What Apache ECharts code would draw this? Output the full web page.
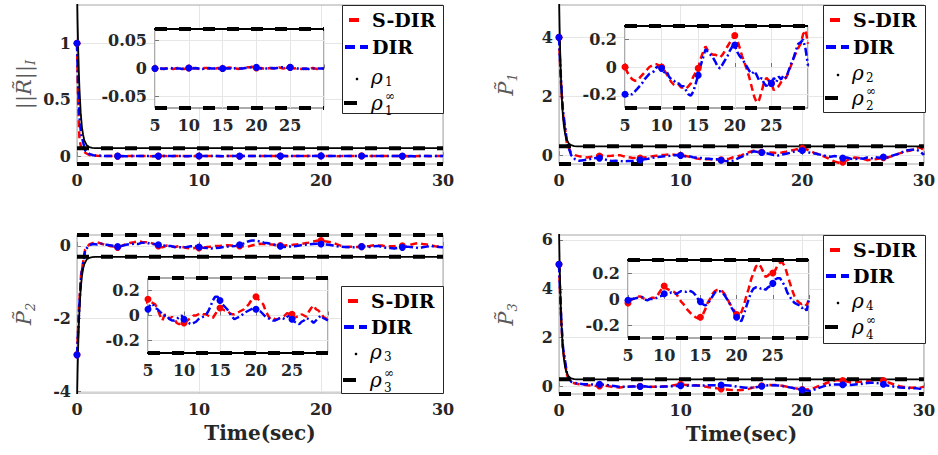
<!DOCTYPE html>
<html><head><meta charset="utf-8">
<script src="https://cdn.jsdelivr.net/npm/echarts@6/dist/echarts.min.js"></script>
<style>html,body{margin:0;padding:0;background:#fff}#c{width:938px;height:455px}</style>
</head><body><div id="c"></div>
<script>
// ---------- data ----------
const time = [0,0.1,0.2,
0.33,0.67,1, 1.33,1.67,2, 2.33,2.67,3, 3.33,3.67,4, 4.33,4.67,5,
5.33,5.67,6, 6.33,6.67,7, 7.33,7.67,8, 8.33,8.67,9, 9.33,9.67,10,
10.33,10.67,11, 11.33,11.67,12, 12.33,12.67,13, 13.33,13.67,14, 14.33,14.67,15,
15.33,15.67,16, 16.33,16.67,17, 17.33,17.67,18, 18.33,18.67,19, 19.33,19.67,20,
20.33,20.67,21, 21.33,21.67,22, 22.33,22.67,23, 23.33,23.67,24, 24.33,24.67,25,
25.33,25.67,26, 26.33,26.67,27, 27.33,27.67,28, 28.33,28.67,29, 29.33,29.67,30];

const sdirR = [1,0.45,0.15, 0.08,0.03,0.01, 0.005,0.003,0.002,
0.001,0,0.001, 0,-0.001,0, 0.001,0.001,0, 0.001,0,-0.001, 0,0,0.001, 0,-0.001,0,
0.001,0,0, -0.001,0,0.001, 0,0.001,0, 0,-0.001,0, 0.001,0.001,0, -0.001,0,0,
0.001,0,0, 0.001,0.001,0.002, 0.001,0,0, -0.001,0,0.001, 0.001,0.002,0.002, 0.003,0.002,0.001,
0,0.001,0, -0.001,0,0.001, 0,0.001,0.001, 0.002,0.001,0, 0.001,0.002,0.002, 0.001,0,0.001,
0,-0.001,0, -0.001,-0.001,0, 0.001,0,-0.001, 0,0,0];
const dirR = [1,0.6,0.35, 0.2,0.05,0.02, 0.008,0.004,0.002,
0,0.001,0, 0,0,-0.001, 0,0,0, 0.001,0,0, -0.001,0,0, 0.001,0,0,
0,0,-0.001, 0,0.001,0.001, 0,0,0.001, 0,0,-0.001, 0,0,0.001, 0,0,0,
0,0,0, 0.001,0,0, 0,0,0.001, 0,0,0, 0.001,0.001,0.002, 0.002,0.001,0.002,
0.001,0,0, 0,0,0.001, 0.001,0,0.001, 0.001,0.002,0.002, 0.002,0.001,0.002, 0.001,0.001,0,
0,0,-0.001, 0,-0.001,0, 0,0,0, 0,0,0];

const sdirP1 = [4,3.0,2.2,
1.4,0.35,0.08, 0.0,-0.04,-0.06, -0.08,-0.05,-0.01, -0.03,0.0,-0.03, -0.02,0.0,0.0,
-0.04,-0.07,-0.09, -0.1,-0.1,-0.08, -0.06,-0.04,-0.02, 0.0,0.01,0.02, 0.02,0.01,0.0,
-0.02,-0.05,-0.08, -0.11,-0.13,-0.14, -0.13,-0.15,-0.15, -0.16,-0.14,-0.12, -0.07,-0.04,-0.01,
0.06,0.11,0.15, 0.12,0.1,0.09, 0.09,0.08,0.07, 0.09,0.12,0.15, 0.18,0.21,0.23,
0.2,0.14,0.08, 0.03,-0.02,-0.08, -0.15,-0.22,-0.26, -0.24,-0.18,-0.11, -0.08,-0.1,-0.12,
-0.17,-0.15,-0.14, -0.11,-0.09,-0.08, -0.04,0.01,0.06, 0.1,0.14,0.17, 0.24,0.27,0.17];
const dirP1 = [4,3.1,2.3,
1.5,0.4,0.0, -0.14,-0.19,-0.17, -0.15,-0.12,-0.1, -0.1,-0.13,-0.17, -0.2,-0.19,-0.2,
-0.21,-0.2,-0.2, -0.18,-0.16,-0.14, -0.12,-0.09,-0.07, -0.05,-0.04,-0.03, 0.0,0.0,-0.01,
-0.04,-0.03,-0.07, -0.09,-0.1,-0.12, -0.12,-0.14,-0.14, -0.17,-0.2,-0.21, -0.18,-0.12,-0.06,
0.01,0.07,0.13, 0.11,0.09,0.07, 0.04,0.0,-0.01, 0.02,0.05,0.08, 0.12,0.15,0.16,
0.11,0.08,0.06, 0.03,0.0,-0.03, -0.05,-0.03,-0.06, -0.1,-0.08,-0.12, -0.14,-0.1,-0.12,
-0.08,-0.11,-0.07, -0.09,-0.06,-0.08, -0.03,0.02,0.06, 0.12,0.17,0.18, 0.2,0.13,0.01];

const sdirP2 = [-3,-2.2,-1.5,
-0.8,-0.1,0.04, 0.08,0.1,0.06, 0.03,0.0,-0.02, -0.04,0.0,0.05, 0.08,0.1,0.13,
0.11,0.1,0.09, 0.05,0.0,-0.04, 0.01,-0.01,-0.03, -0.01,-0.03,-0.06, -0.07,-0.06,-0.06,
-0.05,-0.03,-0.02, 0.0,0.0,0.01, 0.02,0.01,0.01, 0.0,-0.01,-0.02, 0.01,0.04,0.06,
0.05,0.04,0.04, 0.02,0.01,0.01, 0.02,0.03,0.04, 0.05,0.07,0.09, 0.12,0.14,0.15,
0.13,0.11,0.09, 0.04,0.0,-0.03, -0.02,-0.03,-0.03, -0.02,-0.01,0.0, 0.02,0.01,0.01,
-0.02,-0.01,-0.01, 0.01,0.0,-0.01, 0.03,0.06,0.08, 0.05,0.04,0.02, -0.01,-0.02,-0.04];
const dirP2 = [-3,-2.3,-1.6,
-0.85,-0.12,0.02, 0.05,0.04,0.06, 0.04,0.02,0.0, -0.02,0.0,0.03, 0.05,0.06,0.05,
0.09,0.09,0.06, 0.05,0.03,0.01, 0.0,0.0,-0.03, -0.04,-0.04,-0.03, -0.01,0.0,-0.03,
-0.05,-0.06,-0.07, -0.06,-0.05,-0.03, -0.02,-0.01,0.0, 0.03,0.07,0.12, 0.15,0.15,0.12,
0.09,0.07,0.05, 0.02,-0.01,-0.03, -0.02,-0.01,0.0, 0.02,0.03,0.04, 0.05,0.06,0.05,
0.04,0.03,0.01, -0.01,-0.02,-0.03, -0.04,-0.04,-0.03, -0.02,-0.02,-0.03, -0.01,0.0,-0.03,
-0.05,-0.06,-0.07, -0.05,-0.04,-0.02, -0.03,-0.04,-0.06, -0.04,-0.02,0.0, -0.02,-0.03,-0.04];

const sdirP3 = [5,3.7,2.5,
1.5,0.45,0.2, 0.13,0.1,0.08, 0.06,0.05,0.04, 0.03,0.04,0.03, 0.0,-0.02,-0.03,
-0.01,0.0,0.01, 0.02,0.02,0.01, 0.0,-0.005,0.0, 0.01,0.01,0.02, 0.05,0.08,0.1,
0.08,0.07,0.06, 0.055,0.04,0.01, -0.02,-0.04,-0.07, -0.09,-0.11,-0.13, -0.14,-0.15,-0.14,
-0.12,-0.08,-0.03, 0.0,0.04,0.06, 0.07,0.07,0.06, 0.04,0.01,-0.03, -0.06,-0.09,-0.12,
-0.12,-0.1,-0.05, 0.02,0.08,0.15, 0.2,0.25,0.27, 0.25,0.21,0.17, 0.18,0.2,0.2,
0.22,0.26,0.28, 0.28,0.25,0.19, 0.13,0.07,0.02, -0.01,-0.03,-0.04, -0.03,-0.05,0.0];
const dirP3 = [5,3.8,2.6,
1.6,0.5,0.2, 0.15,0.12,0.1, 0.1,0.09,0.08, 0.1,0.08,0.06, 0.04,0.02,-0.01,
0.0,0.0,0.005, 0.01,0.01,0.015, -0.005,-0.01,0.0, 0.0,0.005,0.01, 0.02,0.025,0.04,
0.035,0.045,0.05, 0.045,0.04,0.05, 0.06,0.055,0.055, 0.065,0.06,0.05, 0.03,0.0,-0.02,
-0.04,-0.05,-0.04, -0.01,0.02,0.05, 0.06,0.06,0.05, 0.03,0.0,-0.03, -0.07,-0.1,-0.14,
-0.16,-0.17,-0.12, -0.06,0.0,0.05, 0.08,0.09,0.09, 0.08,0.085,0.07, 0.09,0.1,0.12,
0.15,0.16,0.16, 0.13,0.1,0.05, 0.02,-0.01,-0.03, -0.04,-0.05,-0.07, -0.06,-0.09,0.0];

const rhoTime = [0,0.05,0.1,0.15,0.2,0.3,0.4,0.5,0.6,0.8,1,1.25,1.5,2,30];
const rho1 = [1.5,1.18,0.94,0.75,0.6,0.39,0.26,0.19,0.14,0.096,0.08,0.073,0.071,0.07,0.07];
const rho2 = [5.5,4.35,3.46,2.75,2.21,1.46,1.0,0.73,0.56,0.4,0.34,0.31,0.3,0.3,0.3];
const rho3 = [-4.3,-3.42,-2.73,-2.19,-1.77,-1.19,-0.84,-0.63,-0.5,-0.37,-0.33,-0.31,-0.3,-0.3,-0.3];
const rho4 = [6.5,5.13,4.06,3.23,2.58,1.68,1.14,0.81,0.61,0.41,0.34,0.31,0.3,0.3,0.3];
const rhoInf = [0.07, 0.3, 0.3, 0.3];
const mainInfTime = [0, 30];
const insetInfTime = [5, 30];

const mainMarkTimes = [0,3.33,6.67,10,13.33,16.67,20,23.33,26.67];
const insetMarkTimes = [5,10,15,20,25];

const mainXTicks = [0,10,20,30];
const insetXTicks = [5,10,15,20,25];
const mainYTicks = [[0,0.5,1],[0,2,4],[-4,-2,0],[0,2,4,6]];
const insetYTicks = [[-0.05,0,0.05],[-0.2,0,0.2],[-0.2,0,0.2],[-0.2,0,0.2]];

const seriesNames = ['S-DIR','DIR'];
const rhoSub = ['1','2','3','4'];
const yNames = ['{a|||R\u0303||}{b|I}','{a|P\u0303}{b|1}','{a|P\u0303}{b|2}','{a|P\u0303}{b|3}'];
const xName = 'Time(sec)';

// ---------- layout ----------
const sdir = [sdirR, sdirP1, sdirP2, sdirP3];
const dir = [dirR, dirP1, dirP2, dirP3];
const rho = [rho1, rho2, rho3, rho4];
const mainGrids = [[77,5,366,159],[559,5,366,159],[77,235,366,158],[559,235,366,159]];
const insetGrids = [[155,29,169,79],[625,26,183,82],[148,278,180,75],[628,260,181,78]];
const mainYRange = [[-0.07,1.34],[-0.3,5.1],[-4.05,0.3],[-0.3,6.2]];
const insetYRange = [[-0.07,0.07],[-0.3,0.3],[-0.3,0.3],[-0.3,0.3]];
const legendBoxes = [[342,5,101,108],[823,5,102,107],[341,286,102,107],[823,235,102,108]];
const legendRows = [[20,47,77,103],[20,47,73,98],[301,327,352,380],[250,276,301,327]];

const FONT = 'DejaVu Serif';
const TXT = '#262626';
const labelStyle = {fontFamily: FONT, fontWeight: 'bold', fontSize: 16, color: TXT};

const grids = [], xAxes = [], yAxes = [], series = [];
function pts(xs, ys) { return xs.map((x, i) => [x, ys[i]]); }

for (let p = 0; p < 4; p++) {
  const g = mainGrids[p];
  grids.push({left: g[0], top: g[1], width: g[2], height: g[3], show: true,
    borderColor: '#a6a6a6', borderWidth: 1, backgroundColor: 'transparent', z: 2});
}
for (let p = 0; p < 4; p++) {
  const g = insetGrids[p];
  grids.push({left: g[0], top: g[1], width: g[2], height: g[3], show: true,
    borderColor: '#595959', borderWidth: 1, backgroundColor: '#fff', z: 3});
}
for (let k = 0; k < 8; k++) {
  const p = k % 4, inset = k >= 4;
  const zAx = inset ? 4 : 0;
  xAxes.push({
    type: 'value', gridIndex: k, z: zAx,
    min: inset ? 5 : 0, max: 30, interval: inset ? 5 : 10,
    axisLine: {show: false},
    axisTick: {show: true, inside: true, length: 4, lineStyle: {color: '#777'}},
    axisLabel: Object.assign({margin: inset ? 9 : 8, customValues: inset ? insetXTicks : mainXTicks}, labelStyle),
    splitLine: {show: true, lineStyle: {color: '#e6e6e6', width: 1}},
    name: (!inset && p >= 2) ? xName : '',
    nameLocation: 'middle', nameGap: 30,
    nameTextStyle: {fontFamily: FONT, fontWeight: 'bold', fontSize: 20, color: TXT}
  });
  const yr = inset ? insetYRange[p] : mainYRange[p];
  const yt = inset ? insetYTicks[p] : mainYTicks[p];
  yAxes.push({
    type: 'value', gridIndex: k, z: zAx, min: yr[0], max: yr[1],
    axisLine: {show: false},
    axisTick: {show: true, inside: true, length: 4, customValues: yt, lineStyle: {color: '#777'}},
    axisLabel: Object.assign({margin: inset ? 8 : 6, customValues: yt}, labelStyle),
    splitLine: {show: true, lineStyle: {color: '#e6e6e6', width: 1}},
    name: inset ? '' : yNames[p],
    nameLocation: 'middle', nameGap: 40,
    nameTextStyle: {
      rich: {
        a: {fontFamily: FONT, fontStyle: 'italic', fontSize: 21, color: '#595959', lineHeight: 26},
        b: {fontFamily: FONT, fontStyle: 'italic', fontSize: 13, color: '#595959', verticalAlign: 'bottom', lineHeight: 14}
      }
    }
  });
  const z = inset ? 5 : 2;
  const marks = inset ? insetMarkTimes : mainMarkTimes;
  const symFn = (v) => (marks.indexOf(v[0]) >= 0 ? 7 : 0);
  const common = {type: 'line', xAxisIndex: k, yAxisIndex: k, z: z, silent: true, animation: false,
    emphasis: {disabled: true}};
  series.push(Object.assign({}, common, {
    name: seriesNames[0], data: pts(time, sdir[p]), clip: true,
    symbol: 'circle', showSymbol: true, showAllSymbol: true, symbolSize: symFn,
    itemStyle: {color: '#ff0000'}, lineStyle: {color: '#ff0000', width: 2.5, type: [7, 4]}
  }));
  series.push(Object.assign({}, common, {
    name: seriesNames[1], data: pts(time, dir[p]), clip: true,
    symbol: 'circle', showSymbol: true, showAllSymbol: true, symbolSize: symFn,
    itemStyle: {color: '#0000ff'}, lineStyle: {color: '#0000ff', width: 2.5, type: [8, 3, 2, 3]}
  }));
  series.push(Object.assign({}, common, {
    name: '\u03c1' + rhoSub[p], data: pts(rhoTime, rho[p]), clip: true, symbol: 'none',
    lineStyle: {color: '#000', width: 1.8, type: 'solid'}
  }));
  const it = inset ? insetInfTime : mainInfTime;
  [1, -1].forEach(s => {
    series.push(Object.assign({}, common, {
      name: '\u03c1' + rhoSub[p] + '\u221e', data: pts(it, [s * rhoInf[p], s * rhoInf[p]]),
      clip: false, symbol: 'none',
      lineStyle: {color: '#000', width: 4, type: [12, 12]}
    }));
  });
}

// legends (drawn as graphic elements)
const graphic = [];
for (let p = 0; p < 4; p++) {
  const [bx, by, bw, bh] = legendBoxes[p];
  const r = legendRows[p];
  const gz = 20;
  graphic.push({type: 'rect', z: gz, shape: {x: bx + 0.5, y: by + 0.5, width: bw, height: bh},
    style: {fill: '#fff', stroke: '#262626', lineWidth: 1}});
  graphic.push({type: 'line', z: gz, shape: {x1: bx + 7, y1: r[0], x2: bx + 17, y2: r[0]},
    style: {stroke: '#ff0000', lineWidth: 4}});
  graphic.push({type: 'line', z: gz, shape: {x1: bx + 3, y1: r[1], x2: bx + 13, y2: r[1]},
    style: {stroke: '#0000ff', lineWidth: 4}});
  graphic.push({type: 'line', z: gz, shape: {x1: bx + 18, y1: r[1], x2: bx + 26, y2: r[1]},
    style: {stroke: '#0000ff', lineWidth: 4}});
  graphic.push({type: 'circle', z: gz, shape: {cx: bx + 15, cy: r[2] + 2, r: 1.3}, style: {fill: '#000'}});
  graphic.push({type: 'line', z: gz, shape: {x1: bx + 2, y1: r[3], x2: bx + 15, y2: r[3]},
    style: {stroke: '#000', lineWidth: 4}});
  [0, 1].forEach(i => {
    graphic.push({type: 'text', z: gz, style: {text: seriesNames[i], x: bx + 30, y: r[i],
      font: 'bold 19px "DejaVu Serif"', fill: '#000', verticalAlign: 'middle', align: 'left'}});
  });
  graphic.push({type: 'text', z: gz, style: {text: '\u03c1', x: bx + 29, y: r[2],
    font: 'italic 20px "DejaVu Serif"', fill: '#000', verticalAlign: 'middle', align: 'left'}});
  graphic.push({type: 'text', z: gz, style: {text: rhoSub[p], x: bx + 43, y: r[2] + 5,
    font: '12px "DejaVu Serif"', fill: '#000', verticalAlign: 'middle', align: 'left'}});
  graphic.push({type: 'text', z: gz, style: {text: '\u03c1', x: bx + 29, y: r[3],
    font: 'italic 20px "DejaVu Serif"', fill: '#000', verticalAlign: 'middle', align: 'left'}});
  graphic.push({type: 'text', z: gz, style: {text: '\u221e', x: bx + 43, y: r[3] - 7,
    font: '12px "DejaVu Serif"', fill: '#000', verticalAlign: 'middle', align: 'left'}});
  graphic.push({type: 'text', z: gz, style: {text: rhoSub[p], x: bx + 43, y: r[3] + 8,
    font: '12px "DejaVu Serif"', fill: '#000', verticalAlign: 'middle', align: 'left'}});
}

const chart = echarts.init(document.getElementById('c'), null, {renderer: 'svg', width: 938, height: 455});
chart.setOption({
  animation: false,
  backgroundColor: '#fff',
  grid: grids, xAxis: xAxes, yAxis: yAxes, series: series, graphic: graphic
});
</script>
</body></html>
